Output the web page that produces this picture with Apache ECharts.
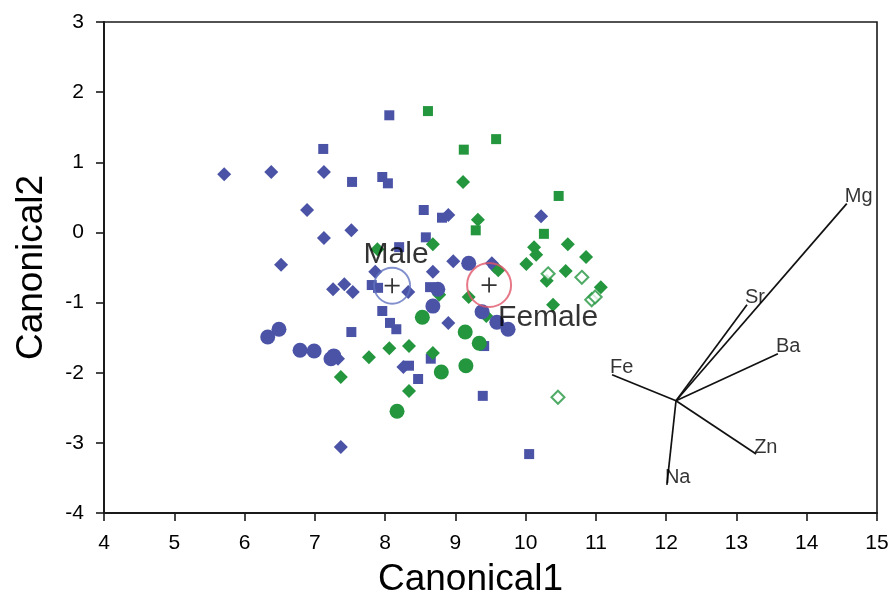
<!DOCTYPE html>
<html>
<head>
<meta charset="utf-8">
<script src="https://cdn.jsdelivr.net/npm/echarts@6/dist/echarts.min.js"></script>
<style>
  html, body { margin: 0; padding: 0; background: #fff; }
  #chart { width: 891px; height: 593px; }
</style>
</head>
<body>
<div id="chart"></div>
<script>
// Canonical scores, grouped by sex (colour) and sampling group (shape)
const maleSquares = [
  [8.06, 1.67], [7.12, 1.19], [7.53, 0.72], [7.96, 0.79], [8.04, 0.70],
  [8.55, 0.32], [8.81, 0.21], [8.58, -0.07], [8.20, -0.21], [7.81, -0.75],
  [7.90, -0.79], [8.64, -0.78], [7.96, -1.12], [8.07, -1.29], [8.16, -1.38],
  [7.52, -1.42], [8.65, -1.80], [8.34, -1.90], [8.47, -2.09], [9.41, -1.62],
  [9.39, -2.33], [10.05, -3.16]
];
const maleDiamonds = [
  [5.71, 0.83], [6.38, 0.86], [7.13, 0.86], [6.89, 0.32], [7.52, 0.03],
  [7.13, -0.08], [6.52, -0.46], [7.26, -0.81], [7.42, -0.74], [7.54, -0.85],
  [7.86, -0.56], [8.90, 0.25], [10.22, 0.23], [8.97, -0.41], [9.52, -0.44],
  [9.56, -0.49], [8.68, -0.56], [8.33, -0.85], [8.90, -1.29], [8.26, -1.92],
  [7.33, -1.80], [7.37, -3.06]
];
const maleCircles = [
  [6.33, -1.49], [6.49, -1.38], [6.79, -1.68], [6.99, -1.69], [7.23, -1.80],
  [7.27, -1.76], [8.68, -1.05], [8.75, -0.81], [9.19, -0.44], [9.38, -1.13],
  [9.59, -1.28], [9.75, -1.38]
];
const femaleSquares = [
  [8.61, 1.73], [9.58, 1.33], [9.12, 1.18], [10.47, 0.52], [10.26, -0.02],
  [9.29, 0.03]
];
const femaleDiamonds = [
  [9.11, 0.72], [9.32, 0.18], [8.68, -0.17], [10.12, -0.21], [10.15, -0.32],
  [10.01, -0.45], [10.60, -0.17], [10.86, -0.35], [10.57, -0.55], [10.30, -0.69],
  [11.07, -0.78], [10.39, -1.03], [8.77, -0.89], [9.19, -0.92], [9.44, -1.19],
  [9.61, -0.54], [8.06, -1.65], [8.34, -1.62], [8.68, -1.72], [7.77, -1.78],
  [7.37, -2.06], [8.34, -2.26], [7.89, -0.24]
];
const femaleOpenDiamonds = [
  [10.32, -0.59], [10.80, -0.64], [10.94, -0.96], [10.99, -0.92], [10.46, -2.35]
];
const femaleCircles = [
  [8.53, -1.21], [9.14, -1.42], [9.34, -1.58], [9.15, -1.90], [8.80, -1.99],
  [8.17, -2.55]
];

// Group centroids
const centroidNames = ['Male', 'Female'];
const centroids = [[8.10, -0.76], [9.48, -0.75]];

// Element loadings, drawn as vectors from a common origin
const vectorOrigin = [12.14, -2.40];
const elements = ['Mg', 'Sr', 'Ba', 'Fe', 'Zn', 'Na'];
const vectorEnds = [
  [14.57, 0.41], [13.15, -1.03], [13.59, -1.73],
  [11.23, -2.03], [13.28, -3.16], [12.01, -3.60]
];

// Axis ranges and labels
const xRange = [4, 15];
const yRange = [-4, 3];
const xTitle = 'Canonical1';
const yTitle = 'Canonical2';

const BLUE = '#4b53a6';
const GREEN = '#23963e';
const INK = '#000000';
const FONT = 'Liberation Sans, Arial, sans-serif';

const chart = echarts.init(document.getElementById('chart'), null, { renderer: 'canvas' });

function pts(name, data, symbol, size, color, extra) {
  return Object.assign({
    name, type: 'scatter', data, symbol, symbolSize: size,
    itemStyle: { color, opacity: 1 },
    emphasis: { disabled: true },
    z: 3
  }, extra || {});
}

const series = [
  pts('male-sq', maleSquares, 'rect', 10, BLUE),
  pts('male-di', maleDiamonds, 'diamond', 14, BLUE),
  pts('female-sq', femaleSquares, 'rect', 10, GREEN),
  pts('female-di', femaleDiamonds, 'diamond', 14, GREEN),
  pts('female-open', femaleOpenDiamonds, 'diamond', 13, '#ffffff', {
    itemStyle: { color: '#ffffff', borderColor: GREEN, borderWidth: 2 }
  }),
  pts('male-ci', maleCircles, 'circle', 15, BLUE),
  pts('female-ci', femaleCircles, 'circle', 15, GREEN)
];

// loading vectors
vectorEnds.forEach((end) => {
  series.push({
    type: 'line',
    data: [vectorOrigin, end],
    symbol: 'none',
    lineStyle: { color: '#111', width: 1.7 },
    emphasis: { disabled: true },
    silent: true,
    z: 2
  });
});
series.push({
  type: 'scatter',
  data: vectorEnds.map((e, i) => ({ value: e, name: elements[i] })),
  symbolSize: 0,
  silent: true,
  label: {
    show: true,
    formatter: p => p.name,
    position: [0, 0],
    align: 'left',
    verticalAlign: 'bottom',
    offset: [-2, 3],
    color: INK,
    fontFamily: FONT,
    fontSize: 20
  },
  z: 4
});

// centroid rings with labels and crosses
series.push({
  type: 'scatter',
  data: [
    { value: centroids[0], name: centroidNames[0], symbolSize: 36,
      itemStyle: { color: 'rgba(0,0,0,0)', borderColor: '#6174c0', borderWidth: 1.8 },
      label: { offset: [4, -31] } },
    { value: centroids[1], name: centroidNames[1], symbolSize: 44,
      itemStyle: { color: 'rgba(0,0,0,0)', borderColor: '#e0566a', borderWidth: 2 },
      label: { offset: [59, 33] } }
  ],
  symbol: 'circle',
  silent: true,
  label: {
    show: true,
    position: 'inside',
    formatter: p => p.name,
    color: INK,
    fontFamily: FONT,
    fontSize: 30
  },
  z: 5
});
series.push({
  type: 'scatter',
  data: centroids,
  symbol: 'path://M5.3,0h1.4v5.3h5.3v1.4h-5.3v5.3h-1.4v-5.3h-5.3v-1.4h5.3z',
  symbolSize: 15,
  itemStyle: { color: INK },
  silent: true,
  z: 6
});

chart.setOption({
  animation: false,
  backgroundColor: '#ffffff',
  grid: {
    left: 104, right: 14, top: 22, bottom: 80,
    outerBoundsMode: 'none',
    containLabel: false,
    show: true, borderColor: '#1a1a1a', borderWidth: 1.6, backgroundColor: 'transparent'
  },
  xAxis: {
    type: 'value', min: xRange[0], max: xRange[1], interval: 1,
    name: xTitle, nameLocation: 'middle', nameGap: 48,
    nameTextStyle: { fontFamily: FONT, fontSize: 37, color: INK, padding: [0, 40, 0, 0] },
    axisLine: { show: true, onZero: false, lineStyle: { color: '#1a1a1a', width: 2 } },
    axisTick: { show: true, length: 8, lineStyle: { color: '#1a1a1a', width: 1.6 } },
    axisLabel: { fontFamily: FONT, fontSize: 21, color: INK, margin: 20 },
    splitLine: { show: false }
  },
  yAxis: {
    type: 'value', min: yRange[0], max: yRange[1], interval: 1,
    name: yTitle, nameLocation: 'middle', nameGap: 54,
    nameTextStyle: { fontFamily: FONT, fontSize: 37, color: INK },
    axisLine: { show: true, onZero: false, lineStyle: { color: '#1a1a1a', width: 2 } },
    axisTick: { show: true, length: 8, lineStyle: { color: '#1a1a1a', width: 1.6 } },
    axisLabel: { fontFamily: FONT, fontSize: 21, color: INK, margin: 20 },
    splitLine: { show: false }
  },
  series
});
</script>
</body>
</html>
